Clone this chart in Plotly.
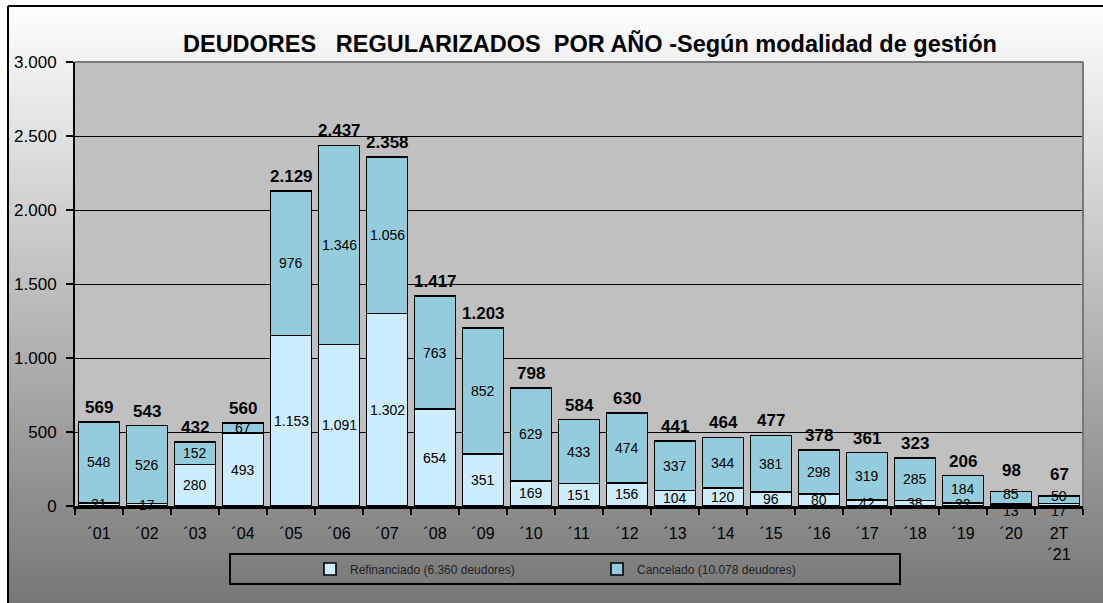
import plotly.graph_objects as go

# ---------------- data ----------------
categories = ["´01", "´02", "´03", "´04", "´05", "´06", "´07", "´08", "´09", "´10", "´11",
              "´12", "´13", "´14", "´15", "´16", "´17", "´18", "´19", "´20", "2T<br>´21"]
refinanciado = [21, 17, 280, 493, 1153, 1091, 1302, 654, 351, 169, 151,
                156, 104, 120, 96, 80, 42, 38, 22, 13, 17]
cancelado = [548, 526, 152, 67, 976, 1346, 1056, 763, 852, 629, 433,
             474, 337, 344, 381, 298, 319, 285, 184, 85, 50]
totales = [569, 543, 432, 560, 2129, 2437, 2358, 1417, 1203, 798, 584,
           630, 441, 464, 477, 378, 361, 323, 206, 98, 67]
y_ticks = [0, 500, 1000, 1500, 2000, 2500, 3000]
name_ref = "Refinanciado (6.360 deudores)"
name_can = "Cancelado (10.078 deudores)"
title_text = "DEUDORES\u00a0\u00a0\u00a0REGULARIZADOS\u00a0\u00a0POR AÑO -Según modalidad de gestión"


def fmt(v):
    return f"{v:,}".replace(",", ".")


# ---------------- geometry helpers ----------------
W, H = 1103, 603
L, R, T, B = 75, 20, 62, 97
PW, PH = W - L - R, H - T - B


def px(x):
    return (x - L) / PW


def py(y):
    return (H - B - y) / PH


FONT = "Arial, Liberation Sans, sans-serif"
COL_REF = "#CCECFF"
COL_CAN = "#93CDDD"

fig = go.Figure()
fig.add_trace(go.Bar(x=categories, y=refinanciado, name=name_ref,
                     marker=dict(color=COL_REF, line=dict(color="black", width=1.6)),
                     hoverinfo="y"))
fig.add_trace(go.Bar(x=categories, y=cancelado, name=name_can,
                     marker=dict(color=COL_CAN, line=dict(color="black", width=1.6)),
                     hoverinfo="y"))

# ---------------- data labels (annotations on the data axes) ----------------
annotations = []
for cat, r, c, t in zip(categories, refinanciado, cancelado, totales):
    tiny = t < 100  # very small stacks: labels spread out as in the reference
    annotations.append(dict(x=cat, y=r / 2, xref="x", yref="y", text=fmt(r),
                            showarrow=False, xanchor="center", yanchor="middle",
                            yshift=-6 if tiny else 0,
                            font=dict(family=FONT, size=14, color="black")))
    annotations.append(dict(x=cat, y=r + c / 2, xref="x", yref="y", text=fmt(c),
                            showarrow=False, xanchor="center", yanchor="middle",
                            yshift=4 if tiny else 0,
                            font=dict(family=FONT, size=14, color="black")))
    annotations.append(dict(x=cat, y=t, xref="x", yref="y", text=f"<b>{fmt(t)}</b>",
                            showarrow=False, xanchor="center", yanchor="bottom",
                            yshift=10 if tiny else 3,
                            font=dict(family=FONT, size=17, color="black")))

annotations.append(dict(text=f"<b>{title_text}</b>", xref="paper", yref="paper",
                        x=px(590), y=py(43), xanchor="center", yanchor="middle",
                        showarrow=False, font=dict(family=FONT, size=23.5, color="black")))

# ---------------- background gradient (outside plot area) ----------------
shapes = []
top_px = 6
bounds = sorted(set(list(range(top_px, H + 1, 6)) + [T, H - B, H]))


def grad(y):
    c = round(255 - 136 * (y / H))
    return f"rgb({c},{c},{c})"


for y0, y1 in zip(bounds[:-1], bounds[1:]):
    col = grad((y0 + y1) / 2)
    inside = y0 >= T and y1 <= H - B
    if inside:
        segs = [(8, L), (W - R, W)]
    else:
        segs = [(8, W)]
    for xa, xb in segs:
        shapes.append(dict(type="rect", xref="paper", yref="paper", layer="below",
                           x0=px(xa), x1=px(xb), y0=py(y1 + 0.6), y1=py(y0),
                           fillcolor=col, line=dict(width=0)))

# outer frame (left + top)
shapes.append(dict(type="line", xref="paper", yref="paper", layer="above",
                   x0=px(8), x1=px(W + 5), y0=py(top_px), y1=py(top_px),
                   line=dict(color="black", width=2)))
shapes.append(dict(type="line", xref="paper", yref="paper", layer="above",
                   x0=px(8), x1=px(8), y0=py(top_px), y1=py(H + 5),
                   line=dict(color="black", width=2)))
# plot-area top / right border (gray)
shapes.append(dict(type="line", xref="paper", yref="paper", layer="above",
                   x0=0, x1=1, y0=1, y1=1, line=dict(color="#7A7A7A", width=2)))
shapes.append(dict(type="line", xref="paper", yref="paper", layer="above",
                   x0=1, x1=1, y0=0, y1=1, line=dict(color="#7A7A7A", width=2)))
# legend box
shapes.append(dict(type="rect", xref="paper", yref="paper", layer="above",
                   x0=px(230), x1=px(900), y0=py(584), y1=py(554),
                   line=dict(color="black", width=2), fillcolor="rgba(0,0,0,0)"))

fig.update_layout(
    width=W, height=H,
    margin=dict(l=L, r=R, t=T, b=B, autoexpand=False),
    paper_bgcolor="white",
    plot_bgcolor="#C0C0C0",
    separators=",.",
    barmode="stack",
    bargap=0.15,
    font=dict(family=FONT, color="black"),
    shapes=shapes,
    annotations=annotations,
    showlegend=True,
    legend=dict(orientation="h", x=px(310), y=py(569), xanchor="left", yanchor="middle",
                font=dict(family=FONT, size=12, color="#222222"),
                bgcolor="rgba(0,0,0,0)", borderwidth=0, traceorder="normal",
                entrywidth=242, entrywidthmode="pixels"),
    xaxis=dict(type="category", showline=True, linecolor="black", linewidth=3,
               ticks="outside", tickson="boundaries", ticklen=6, tickwidth=1.5,
               tickcolor="black", tickfont=dict(family=FONT, size=16, color="black"),
               showgrid=False, ticklabelstandoff=11),
    yaxis=dict(range=[0, 3000], tickvals=y_ticks, tickformat=",d",
               showgrid=True, gridcolor="black", gridwidth=1,
               showline=True, linecolor="black", linewidth=2,
               ticks="outside", ticklen=7, tickwidth=1.5, tickcolor="black",
               tickfont=dict(family=FONT, size=17, color="black"),
               zeroline=False, ticklabelstandoff=6),
)

fig.write_html("out.html", config={"displayModeBar": False},
               post_script="document.body.style.margin='0';")
